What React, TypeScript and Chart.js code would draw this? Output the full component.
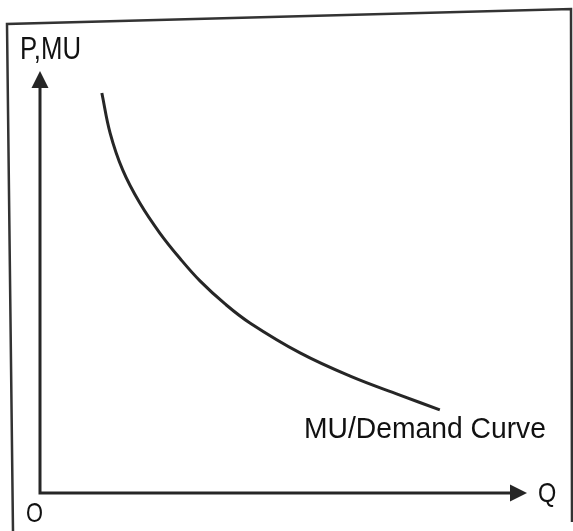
import React, { useEffect, useRef } from "react";
import { Chart, registerables } from "chart.js";

Chart.register(...registerables);

// Quantity (x) and marginal utility / price (y), in axis units 0-100
const quantity = [12.7, 14.4, 17.0, 20.5, 24.6, 28.8, 32.9, 38.0, 43.1, 53.4, 63.7, 73.9, 82.1];
const utility = [94.8, 85.3, 76.5, 68.7, 61.6, 55.5, 50.2, 44.8, 40.3, 33.2, 27.7, 23.2, 19.7];

const yAxisLabel = "P,MU";
const xAxisLabel = "Q";
const originLabel = "O";
const curveLabel = "MU/Demand Curve";

const INK = "#262626";

const drawPlugin = {
  id: "econDiagram",
  beforeDraw(chart: any) {
    const ctx = chart.ctx;
    ctx.save();
    ctx.fillStyle = "#ffffff";
    ctx.fillRect(0, 0, chart.width, chart.height);
    // outer frame of the figure
    ctx.strokeStyle = "#333";
    ctx.lineWidth = 2.5;
    ctx.beginPath();
    ctx.moveTo(13, 531);
    ctx.lineTo(7, 24);
    ctx.lineTo(571, 9);
    ctx.lineTo(572, 522);
    ctx.stroke();
    ctx.restore();
  },
  afterDatasetsDraw(chart: any) {
    const ctx = chart.ctx;
    const xs = chart.scales.x;
    const ys = chart.scales.y;
    const x0 = xs.getPixelForValue(0);
    const y0 = ys.getPixelForValue(0);
    const xEnd = xs.getPixelForValue(xs.max);
    const yEnd = ys.getPixelForValue(ys.max);
    ctx.save();
    ctx.strokeStyle = INK;
    ctx.fillStyle = INK;
    ctx.lineWidth = 3;
    ctx.lineCap = "butt";
    // axes
    ctx.beginPath();
    ctx.moveTo(x0, yEnd + 14);
    ctx.lineTo(x0, y0);
    ctx.lineTo(xEnd - 14, y0);
    ctx.stroke();
    // arrowheads
    ctx.beginPath();
    ctx.moveTo(x0, yEnd);
    ctx.lineTo(x0 - 8.5, yEnd + 17);
    ctx.lineTo(x0 + 8.5, yEnd + 17);
    ctx.closePath();
    ctx.fill();
    ctx.beginPath();
    ctx.moveTo(xEnd, y0);
    ctx.lineTo(xEnd - 17, y0 - 8.5);
    ctx.lineTo(xEnd - 17, y0 + 8.5);
    ctx.closePath();
    ctx.fill();

    // labels
    ctx.fillStyle = "#111";
    ctx.textBaseline = "alphabetic";
    ctx.textAlign = "left";
    const txt = (s: string, x: number, y: number, size: number, sx: number) => {
      ctx.save();
      ctx.translate(x, y);
      ctx.scale(sx, 1);
      ctx.font = `${size}px "Liberation Sans", Arial, sans-serif`;
      ctx.fillText(s, 0, 0);
      ctx.restore();
    };
    txt(yAxisLabel, x0 - 20, yEnd - 12, 31, 0.83);
    txt(originLabel, x0 - 14, y0 + 29, 28, 0.78);
    txt(xAxisLabel, xEnd + 11, y0 + 9, 28, 0.84);
    txt(curveLabel, xs.getPixelForValue(54.2), ys.getPixelForValue(13), 29, 0.975);
    ctx.restore();
  },
};

export default function App() {
  const ref = useRef<HTMLCanvasElement | null>(null);
  useEffect(() => {
    document.body.style.margin = "0";
    const canvas = ref.current;
    if (!canvas) return;
    const chart = new Chart(canvas, {
      type: "line",
      data: {
        datasets: [
          {
            data: quantity.map((q, i) => ({ x: q, y: utility[i] })),
            borderColor: INK,
            borderWidth: 3,
            pointRadius: 0,
            fill: false,
            tension: 0.4,
          },
        ],
      },
      options: {
        responsive: false,
        animation: false,
        layout: { padding: { left: 40, top: 71, right: 46, bottom: 38 } },
        plugins: { legend: { display: false }, tooltip: { enabled: false } },
        scales: {
          x: { type: "linear", min: 0, max: 100, display: false },
          y: { type: "linear", min: 0, max: 100, display: false },
        },
      },
      plugins: [drawPlugin],
    });
    return () => chart.destroy();
  }, []);
  return <canvas ref={ref} width={573} height={531} style={{ display: "block" }} />;
}
